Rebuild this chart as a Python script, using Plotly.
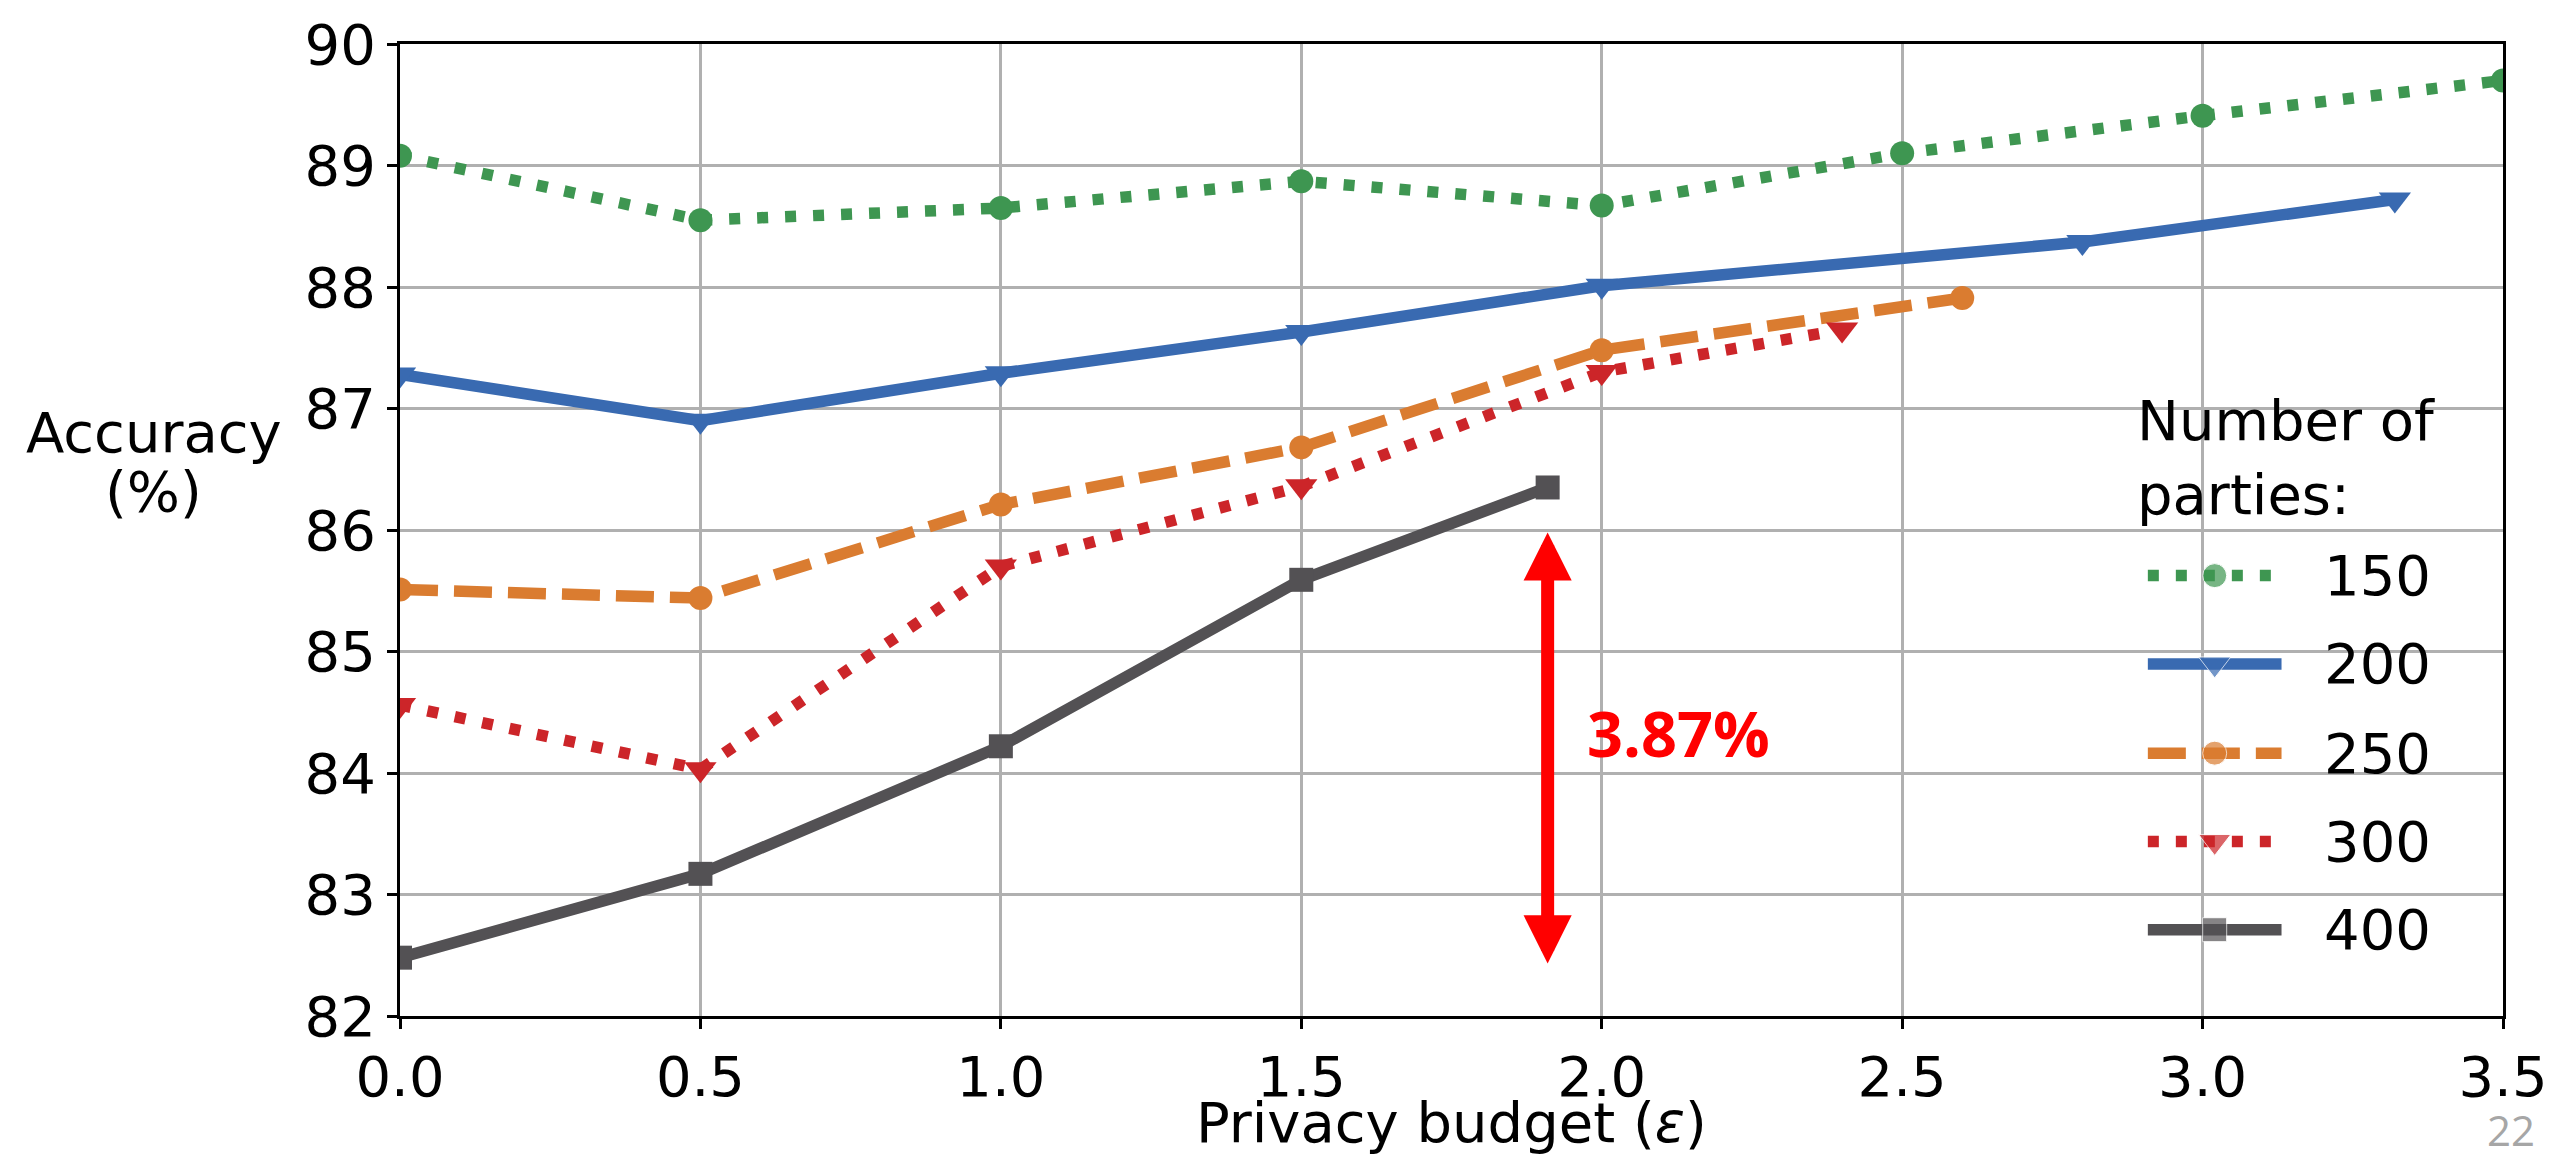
import plotly.graph_objects as go

# Accuracy (%) vs. privacy budget epsilon, one series per number of parties
parties = ["150", "200", "250", "300", "400"]

eps_150 = [0.0, 0.5, 1.0, 1.5, 2.0, 2.5, 3.0, 3.5]
acc_150 = [89.08, 88.55, 88.65, 88.87, 88.67, 89.10, 89.41, 89.70]

eps_200 = [0.0, 0.5, 1.0, 1.5, 2.0, 2.8, 3.32]
acc_200 = [87.28, 86.90, 87.29, 87.63, 88.01, 88.37, 88.72]

eps_250 = [0.0, 0.5, 1.0, 1.5, 2.0, 2.6]
acc_250 = [85.51, 85.44, 86.21, 86.68, 87.48, 87.91]

eps_300 = [0.0, 0.5, 1.0, 1.5, 2.0, 2.4]
acc_300 = [84.56, 84.03, 85.70, 86.36, 87.30, 87.65]

eps_400 = [0.0, 0.5, 1.0, 1.5, 1.91]
acc_400 = [82.48, 83.17, 84.22, 85.59, 86.35]

x_ticks = [0.0, 0.5, 1.0, 1.5, 2.0, 2.5, 3.0, 3.5]
y_ticks = [82, 83, 84, 85, 86, 87, 88, 89, 90]

# vertical extent of the gain arrow
arrow_low = 82.42
arrow_high = 85.98

series_x = [eps_150, eps_200, eps_250, eps_300, eps_400]
series_y = [acc_150, acc_200, acc_250, acc_300, acc_400]

LW = 11.5
styles = [
    dict(color="#3E9651", dash="11px,17px", symbol="circle", size=24),
    dict(color="#396AB1", dash="solid", symbol="triangle-down", size=28),
    dict(color="#DA7C30", dash="38px,16px", symbol="circle", size=24),
    dict(color="#CC2529", dash="11px,17px", symbol="triangle-down", size=28),
    dict(color="#535154", dash="solid", symbol="square", size=24),
]

FONT = "DejaVu Sans"
FS = 56
W, H = 2560, 1159
ML, MR, MT, MB = 400, 52, 36, 143
PW, PH = W - ML - MR, H - MT - MB

fig = go.Figure()

for xs, ys, st, name in zip(series_x, series_y, styles, parties):
    fig.add_trace(go.Scatter(
        x=xs, y=ys, mode="lines+markers", name=name,
        line=dict(color=st["color"], width=LW, dash=st["dash"]),
        marker=dict(color=st["color"], symbol=st["symbol"], size=st["size"]),
        showlegend=False, hoverinfo="skip",
    ))

# Legend drawn on a pixel-unit overlay axis (x: px from plot left, y: px from plot top)
leg_line_x0, leg_line_x1 = 1752, 1886
leg_text_x = 1927
leg_title_x = 1739
leg_rows = [536, 625, 715, 804, 893]
for st, name, ry in zip(styles, parties, leg_rows):
    fig.add_trace(go.Scatter(
        x=[leg_line_x0, (leg_line_x0 + leg_line_x1) / 2, leg_line_x1],
        y=[ry, ry, ry], xaxis="x2", yaxis="y2", mode="lines+markers",
        line=dict(color=st["color"], width=LW, dash=st["dash"]),
        marker=dict(color=st["color"], symbol=st["symbol"], size=[0, st["size"], 0]),
        showlegend=False, hoverinfo="skip",
    ))

annotations = []
for name, ry in zip(parties, leg_rows):
    annotations.append(dict(
        text=name, x=leg_text_x, y=ry, xref="x2", yref="y2",
        xanchor="left", yanchor="middle", showarrow=False,
        font=dict(family=FONT, size=FS, color="black"),
    ))
for line_text, ly in [("Number of", 380), ("parties:", 454)]:
    annotations.append(dict(
        text=line_text, x=leg_title_x, y=ly, xref="x2", yref="y2",
        xanchor="left", yanchor="middle", showarrow=False,
        font=dict(family=FONT, size=FS, color="black"),
    ))

# Axis titles
annotations.append(dict(text="Accuracy", x=(153 - ML) / PW, y=(H - MB - 428) / PH,
                        xref="paper", yref="paper", xanchor="center", yanchor="middle",
                        showarrow=False, font=dict(family=FONT, size=FS, color="black")))
annotations.append(dict(text="(%)", x=(153 - ML) / PW, y=(H - MB - 487) / PH,
                        xref="paper", yref="paper", xanchor="center", yanchor="middle",
                        showarrow=False, font=dict(family=FONT, size=FS, color="black")))
annotations.append(dict(text="Privacy budget (<i>ε</i>)", x=0.5, y=(H - MB - 1123) / PH,
                        xref="paper", yref="paper", xanchor="center", yanchor="middle",
                        showarrow=False, font=dict(family=FONT, size=FS, color="black")))

# Page number
annotations.append(dict(text="22", x=(2516 - ML) / PW, y=(H - MB - 1130) / PH,
                        xref="paper", yref="paper", xanchor="center", yanchor="middle",
                        showarrow=False, font=dict(family="Open Sans", size=42, color="#a6a6a6")))

# Gain arrow between the first and last points of the 400-party curve
gain = acc_400[-1] - acc_400[0]
annotations.append(dict(
    text="", x=eps_400[-1], y=arrow_high, ax=eps_400[-1], ay=arrow_low,
    xref="x", yref="y", axref="x", ayref="y",
    showarrow=True, arrowhead=2, startarrowhead=2, arrowside="end+start",
    arrowsize=0.74, startarrowsize=0.74, arrowwidth=13, arrowcolor="#ff0000",
    standoff=0, startstandoff=0,
))
annotations.append(dict(
    text=f"{gain:.2f}%", x=1.972, y=84.33, xref="x", yref="y",
    xanchor="left", yanchor="middle", showarrow=False,
    font=dict(family="Open Sans", size=63, color="#ff0000", weight=700),
))

axis_common = dict(
    showline=True, linecolor="black", linewidth=3, mirror=True,
    ticks="outside", ticklen=10, tickwidth=3, tickcolor="black",
    showgrid=True, gridcolor="#b0b0b0", gridwidth=2.5, zeroline=False,
    tickfont=dict(family=FONT, size=FS, color="black"),
)

fig.update_layout(
    width=W, height=H,
    margin=dict(l=ML, r=MR, t=MT, b=MB, pad=0),
    paper_bgcolor="white", plot_bgcolor="white",
    showlegend=False,
    xaxis=dict(range=[0, 3.5], tickvals=x_ticks,
               ticktext=[f"{v:.1f}" for v in x_ticks], **axis_common),
    yaxis=dict(range=[82, 90], tickvals=y_ticks,
               ticktext=[str(v) for v in y_ticks], **axis_common),
    xaxis2=dict(range=[0, PW], overlaying="x", anchor="y2", visible=False),
    yaxis2=dict(range=[PH, 0], overlaying="y", anchor="x2", visible=False),
    annotations=annotations,
)

fig.write_html("out.html")
